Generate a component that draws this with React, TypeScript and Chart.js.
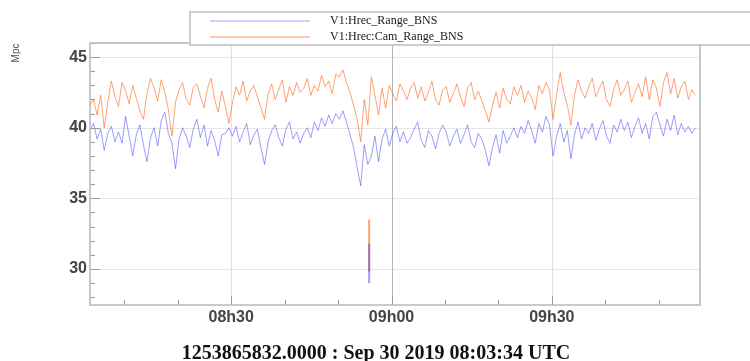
import React, { useEffect, useRef } from 'react';
import { Chart, registerables } from 'chart.js';

Chart.register(...registerables);

// Trend of the BNS range, one sample every 40 s from the start time below.
const startClock = '08:03:34';
const titleText = '1253865832.0000 : Sep 30 2019 08:03:34 UTC';
const sampleStep = 40;
const seriesNames = ['V1:Hrec_Range_BNS', 'V1:Hrec:Cam_Range_BNS'];
const yTitle = 'Mpc';

const hrecRange: number[] = [
  39.8, 40.3, 39.2, 39.9, 38.4, 39.6, 40.1, 39.0, 39.7, 38.9,
  40.8, 39.4, 38.0, 39.5, 40.2, 38.8, 37.6, 39.3, 40.0, 38.7,
  40.5, 41.1, 39.6, 38.9, 37.1, 39.2, 40.0, 39.4, 38.6, 39.9,
  40.6, 39.3, 40.2, 38.7, 39.8, 39.1, 38.0, 39.5, 39.6, 40.0,
  39.4, 40.1, 39.0, 39.7, 40.3, 38.8, 39.5, 39.9, 38.6, 37.4,
  39.0, 39.8, 40.2, 39.3, 38.7, 39.9, 40.4, 39.2, 39.7, 38.9,
  39.6, 40.0, 39.3, 40.4, 39.8, 40.7, 40.1, 40.9, 40.3, 41.0,
  40.6, 41.2, 40.4, 39.5, 38.6, 37.2, 35.9, 38.8, 37.4, 38.0,
  39.4, 37.6, 39.2, 39.9, 38.7, 39.6, 40.1, 39.0, 39.7, 38.9,
  39.3, 39.9, 40.4, 39.1, 38.6, 39.8, 39.4, 38.5, 39.6, 40.2,
  39.7, 38.7, 39.4, 39.9, 38.9, 39.5, 40.2, 39.0, 38.6, 39.6,
  39.2, 38.4, 37.3, 38.6, 39.5, 38.2, 39.8, 38.9, 39.4, 40.0,
  39.3, 40.1, 39.6, 40.5, 39.8, 38.9, 40.3, 39.7, 40.8, 40.2,
  38.0, 39.4, 40.3, 39.0, 39.8, 37.8, 39.5, 40.4, 39.2, 40.0,
  39.6, 40.3, 39.1, 39.9, 40.5, 39.4, 38.9, 40.2, 39.7, 40.6,
  39.8, 40.4, 39.3, 40.1, 40.7, 39.6, 40.3, 39.2, 40.8, 41.1,
  40.2, 39.4, 40.6, 39.8, 40.9, 39.5, 40.3, 39.7, 40.1, 39.6, 40.0,
];

const camRange: number[] = [
  41.6, 42.0, 40.9, 42.3, 40.0, 41.8, 43.3, 42.2, 41.5, 43.2,
  42.6, 41.7, 43.0, 42.1, 41.2, 40.6, 42.4, 43.5, 42.8, 41.9,
  43.4, 42.5, 41.3, 39.4, 41.8, 42.7, 43.2, 42.0, 41.6, 42.9,
  43.1, 42.2, 41.4, 42.8, 43.5, 42.0, 41.1, 42.6, 41.5, 40.3,
  41.8, 42.9, 42.3, 43.3, 41.9, 42.6, 43.0, 42.2, 41.4, 40.6,
  42.4, 43.1, 42.0, 42.7, 43.4, 41.8, 42.9, 42.3, 43.2, 42.5,
  42.8, 43.5, 42.3, 43.0, 42.6, 43.7, 42.9, 43.3, 42.4, 43.8,
  43.6, 44.1, 43.2, 42.5, 41.6, 40.6, 39.0, 42.0, 40.2, 43.6,
  42.3, 40.9, 42.8, 41.4, 43.0, 42.4, 41.9, 43.1, 42.6, 42.0,
  42.8, 43.2, 42.1, 42.9, 41.9, 42.5, 43.3, 42.0, 41.6, 42.7,
  42.9, 41.8, 42.4, 43.1, 42.2, 41.5, 42.8, 43.2, 42.0, 42.6,
  41.9, 41.2, 40.4, 41.6, 42.5, 41.4, 42.8, 42.0, 41.7, 42.9,
  42.3, 43.0, 41.8, 42.6, 42.1, 41.3, 43.0, 42.4, 43.2, 42.7,
  40.6, 42.4, 43.9, 42.5, 41.6, 40.2, 42.3, 43.4, 42.6, 42.1,
  42.9, 43.5, 42.2, 42.8, 43.3, 42.0, 41.5, 42.7, 43.4, 42.3,
  42.7, 43.3, 41.8, 42.5, 43.1, 42.2, 43.6, 42.0, 43.4, 42.8,
  41.5, 43.2, 43.9, 42.4, 43.5, 42.1, 42.9, 43.3, 42.0, 42.7, 42.3,
];

// Short drop-out: [min, max] reached at a single instant
const spikeTime = 3135;
const hrecSpike = [29.0, 31.8];
const camSpike = [29.8, 33.5];

const xTickLabels = ['08h30', '09h00', '09h30'];
const yTickValues = [30, 35, 40, 45];

const X_SPAN = 6850;
const Y_MIN = 27.45;
const Y_MAX = 46.0;

const BLUE = 'rgba(60,60,255,0.5)';
const ORANGE = 'rgba(255,100,20,0.6)';

const clockToSec = (s: string) => {
  const p = s.split(/[:h]/).map(Number);
  return p[0] * 3600 + p[1] * 60 + (p[2] || 0);
};
const startSec = clockToSec(startClock);
const xTickValues = xTickLabels.map((l) => clockToSec(l) - startSec);

const toPoints = (vals: number[]) => vals.map((v, i) => ({ x: i * sampleStep, y: v }));

const line = (ctx: CanvasRenderingContext2D, x1: number, y1: number, x2: number, y2: number) => {
  ctx.beginPath();
  ctx.moveTo(x1, y1);
  ctx.lineTo(x2, y2);
  ctx.stroke();
};

const framePlugin = {
  id: 'rootFrame',
  beforeDatasetsDraw(chart: any) {
    const { ctx, chartArea: a, scales } = chart;
    const { x, y } = scales;
    ctx.save();
    ctx.lineWidth = 1;
    ctx.strokeStyle = '#e6e6e6';
    yTickValues.forEach((v) => {
      const py = Math.round(y.getPixelForValue(v)) + 0.5;
      line(ctx, a.left, py, a.right, py);
    });
    xTickValues.forEach((v, i) => {
      const px = Math.round(x.getPixelForValue(v)) + 0.5;
      ctx.strokeStyle = i === 1 ? '#b4b4b4' : '#e2e2e2';
      line(ctx, px, a.top, px, a.bottom);
    });
    ctx.restore();
  },
  afterDatasetsDraw(chart: any) {
    const { ctx, chartArea: a, scales } = chart;
    const { x, y } = scales;
    ctx.save();

    // ticks pointing into the frame
    ctx.strokeStyle = '#9a9a9a';
    ctx.lineWidth = 1;
    for (let v = Math.ceil(Y_MIN); v <= Math.floor(Y_MAX); v++) {
      const py = Math.round(y.getPixelForValue(v)) + 0.5;
      line(ctx, a.left, py, a.left + (v % 5 === 0 ? 10 : 5), py);
    }
    const firstMinor = Math.ceil(startSec / 600) * 600;
    for (let c = firstMinor; c - startSec <= X_SPAN; c += 600) {
      const px = Math.round(x.getPixelForValue(c - startSec)) + 0.5;
      line(ctx, px, a.bottom, px, a.bottom - (c % 1800 === 0 ? 9 : 5));
    }

    // frame
    ctx.strokeStyle = '#b8b8b8';
    ctx.lineWidth = 1.5;
    ctx.strokeRect(a.left, a.top, a.right - a.left, a.bottom - a.top);

    // legend box
    ctx.fillStyle = '#ffffff';
    ctx.fillRect(190, 12, 580, 33);
    ctx.strokeStyle = '#bdbdbd';
    ctx.lineWidth = 1.5;
    ctx.strokeRect(190, 12, 580, 33);
    const legendColors = ['rgba(90,90,255,0.4)', 'rgba(255,110,40,0.5)'];
    const legendY = [21, 37];
    seriesNames.forEach((name, i) => {
      ctx.strokeStyle = legendColors[i];
      ctx.lineWidth = 1.5;
      line(ctx, 210, legendY[i], 310, legendY[i]);
      ctx.fillStyle = '#1a1a1a';
      ctx.font = '12px "Liberation Serif"';
      ctx.textBaseline = 'middle';
      ctx.textAlign = 'left';
      ctx.fillText(name, 330, legendY[i]);
    });

    // y axis title
    ctx.save();
    ctx.translate(16, 53);
    ctx.rotate(-Math.PI / 2);
    ctx.fillStyle = '#555';
    ctx.font = '10px "Liberation Sans"';
    ctx.textAlign = 'center';
    ctx.textBaseline = 'middle';
    ctx.fillText(yTitle, 0, 0);
    ctx.restore();

    // time stamp of the first sample
    ctx.fillStyle = '#111';
    ctx.font = 'bold 20px "Liberation Serif"';
    ctx.textAlign = 'center';
    ctx.textBaseline = 'alphabetic';
    ctx.fillText(titleText, 376, 359);

    ctx.restore();
  },
};

export default function App() {
  const ref = useRef<HTMLCanvasElement | null>(null);

  useEffect(() => {
    if (!ref.current) return;
    const chart = new Chart(ref.current, {
      type: 'line',
      data: {
        datasets: [
          {
            label: seriesNames[0],
            data: toPoints(hrecRange),
            borderColor: BLUE,
            borderWidth: 1,
            pointRadius: 0,
          },
          {
            label: seriesNames[1],
            data: toPoints(camRange),
            borderColor: ORANGE,
            borderWidth: 1,
            pointRadius: 0,
          },
          {
            label: seriesNames[0] + ' drop',
            data: hrecSpike.map((v) => ({ x: spikeTime, y: v })),
            borderColor: BLUE,
            borderWidth: 2,
            pointRadius: 0,
          },
          {
            label: seriesNames[1] + ' drop',
            data: camSpike.map((v) => ({ x: spikeTime, y: v })),
            borderColor: ORANGE,
            borderWidth: 2,
            pointRadius: 0,
          },
        ],
      },
      options: {
        responsive: false,
        animation: false,
        devicePixelRatio: 1,
        layout: { padding: { left: 0, right: 50, top: 43, bottom: 0 } },
        plugins: { legend: { display: false }, tooltip: { enabled: false }, title: { display: false } },
        scales: {
          x: {
            type: 'linear',
            min: 0,
            max: X_SPAN,
            grid: { display: false, drawTicks: false },
            border: { display: false },
            afterBuildTicks: (s: any) => {
              s.ticks = xTickValues.map((v) => ({ value: v }));
            },
            afterFit: (s: any) => {
              s.height = 56;
            },
            ticks: {
              autoSkip: false,
              maxRotation: 0,
              padding: 3,
              color: '#444',
              font: { family: '"Liberation Sans"', size: 16, weight: 'bold' },
              callback: (v: any) => {
                const i = xTickValues.indexOf(Number(v));
                return i >= 0 ? xTickLabels[i] : '';
              },
            },
          },
          y: {
            type: 'linear',
            min: Y_MIN,
            max: Y_MAX,
            grid: { display: false, drawTicks: false },
            border: { display: false },
            afterBuildTicks: (s: any) => {
              s.ticks = yTickValues.map((v) => ({ value: v }));
            },
            afterFit: (s: any) => {
              s.width = 90;
            },
            ticks: {
              padding: 3,
              color: '#444',
              font: { family: '"Liberation Sans"', size: 16, weight: 'bold' },
            },
          },
        },
      } as any,
      plugins: [framePlugin],
    });
    return () => chart.destroy();
  }, []);

  return (
    <div style={{ position: 'absolute', left: 0, top: 0, width: 750, height: 361, background: '#fff' }}>
      <canvas ref={ref} width={750} height={361} />
    </div>
  );
}
